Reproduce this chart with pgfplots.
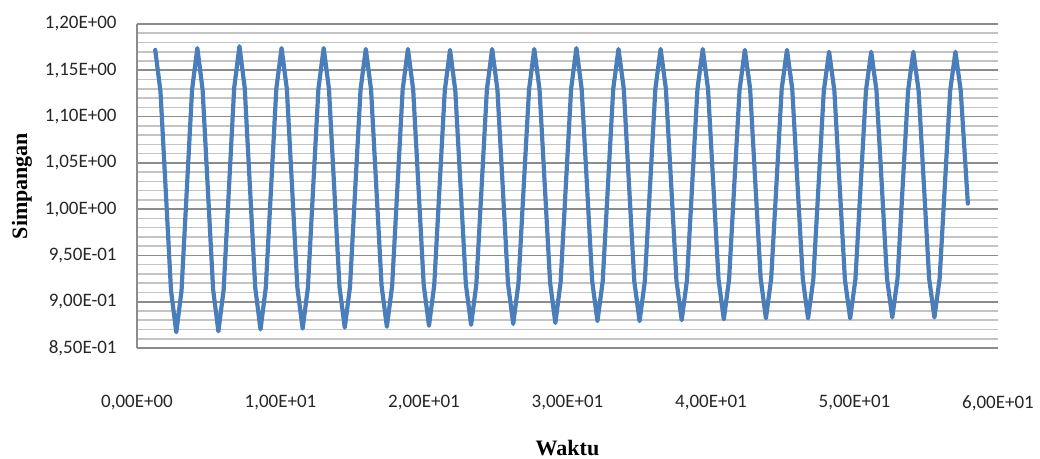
\documentclass[border=0pt]{standalone}
\usepackage{pgfplots}
\pgfplotsset{compat=1.18}
\usepackage{fontspec}
\setmainfont{Carlito}
\newfontfamily\labfont{Liberation Serif}
\definecolor{serblue}{RGB}{74,126,187}
\definecolor{gridmaj}{RGB}{140,140,140}
\definecolor{gridmin}{RGB}{196,196,196}
\begin{document}
\begin{tikzpicture}
\useasboundingbox (-68.5pt,-55.5pt) rectangle (451.5pt,174pt);
\begin{axis}[
  at={(0pt,0pt)}, anchor=south west,
  scale only axis, width=430.5pt, height=162pt,
  xmin=0, xmax=60, ymin=0.85, ymax=1.20,
  xtick={0,10,20,30,40,50,60},
  xticklabels={{0,00E+00},{1,00E+01},{2,00E+01},{3,00E+01},{4,00E+01},{5,00E+01},{6,00E+01}},
  ytick={0.85,0.90,0.95,1.00,1.05,1.10,1.15,1.20},
  yticklabels={{8,50E-01},{9,00E-01},{9,50E-01},{1,00E+00},{1,05E+00},{1,10E+00},{1,15E+00},{1,20E+00}},
  minor y tick num=4,
  ymajorgrids, yminorgrids,
  major grid style={color=gridmaj, line width=0.8pt},
  minor grid style={color=gridmin, line width=0.8pt},
  axis x line*=bottom, axis y line*=left,
  axis line style={-, color=gridmaj, line width=0.8pt},
  major tick length=0pt, minor tick length=0pt,
  tick style={draw=none},
  ticklabel style={font=\fontsize{9.5}{11}\selectfont, text=black!85},
  xticklabel style={anchor=center, yshift=-27.5pt},
  yticklabel style={anchor=east, inner sep=0pt, xshift=-10pt},
  xlabel={Waktu}, ylabel={Simpangan},
  every axis x label/.style={at={(axis description cs:0.5,-0.3086)}, anchor=center, font=\labfont\bfseries\fontsize{11}{13}\selectfont},
  every axis y label/.style={at={(axis description cs:-0.1336,0.5)}, rotate=90, anchor=center, font=\labfont\bfseries\fontsize{11}{13}\selectfont},
  clip=false,
]
\addplot[color=serblue, line width=2.1pt, line join=round, line cap=round] table {
x y
1.270 1.172
1.637 1.127
2.004 1.020
2.371 0.912
2.738 0.867
3.104 0.912
3.471 1.021
3.838 1.129
4.205 1.174
4.572 1.129
4.939 1.021
5.306 0.913
5.673 0.868
6.039 0.913
6.406 1.022
6.773 1.131
7.140 1.176
7.507 1.131
7.874 1.023
8.241 0.915
8.608 0.870
8.974 0.915
9.341 1.022
9.708 1.130
10.075 1.174
10.442 1.130
10.809 1.023
11.176 0.915
11.543 0.871
11.909 0.915
12.276 1.023
12.643 1.130
13.010 1.174
13.377 1.130
13.744 1.023
14.111 0.916
14.478 0.872
14.844 0.916
15.211 1.023
15.578 1.129
15.945 1.173
16.312 1.129
16.679 1.023
17.046 0.917
17.413 0.873
17.779 0.917
18.146 1.023
18.513 1.129
18.880 1.173
19.247 1.129
19.614 1.024
19.981 0.918
20.348 0.874
20.714 0.918
21.081 1.023
21.448 1.128
21.815 1.172
22.182 1.128
22.549 1.024
22.916 0.919
23.283 0.875
23.649 0.919
24.016 1.024
24.383 1.129
24.750 1.173
25.117 1.129
25.484 1.025
25.851 0.920
26.218 0.876
26.584 0.920
26.951 1.025
27.318 1.129
27.685 1.173
28.052 1.129
28.419 1.025
28.786 0.921
29.153 0.877
29.519 0.921
29.886 1.026
30.253 1.130
30.620 1.174
30.987 1.130
31.354 1.027
31.721 0.922
32.088 0.879
32.454 0.922
32.821 1.026
33.188 1.130
33.555 1.173
33.922 1.130
34.289 1.026
34.656 0.922
35.023 0.879
35.389 0.922
35.756 1.026
36.123 1.130
36.490 1.173
36.857 1.130
37.224 1.027
37.591 0.923
37.958 0.880
38.324 0.923
38.691 1.027
39.058 1.130
39.425 1.173
39.792 1.130
40.159 1.027
40.526 0.924
40.893 0.881
41.259 0.924
41.626 1.027
41.993 1.129
42.360 1.172
42.727 1.130
43.094 1.027
43.461 0.925
43.828 0.882
44.194 0.925
44.561 1.027
44.928 1.130
45.295 1.172
45.662 1.130
46.029 1.027
46.396 0.925
46.763 0.882
47.129 0.924
47.496 1.026
47.863 1.128
48.230 1.170
48.597 1.128
48.964 1.026
49.331 0.924
49.698 0.882
50.064 0.924
50.431 1.026
50.798 1.128
51.165 1.170
51.532 1.128
51.899 1.027
52.266 0.925
52.633 0.883
52.999 0.925
53.366 1.027
53.733 1.128
54.100 1.170
54.467 1.128
54.834 1.027
55.201 0.925
55.568 0.883
55.934 0.925
56.301 1.027
56.668 1.128
57.035 1.170
57.402 1.128
57.900 1.006
};
\end{axis}
\end{tikzpicture}
\end{document}
